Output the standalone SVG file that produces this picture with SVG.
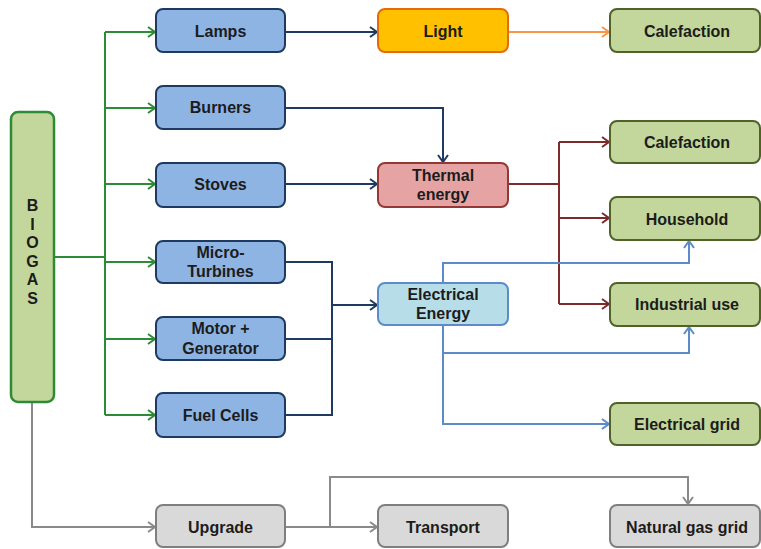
<svg xmlns="http://www.w3.org/2000/svg" width="761" height="549" viewBox="0 0 761 549">
<defs>
<style>
text{font-family:"Liberation Sans",Arial,sans-serif;font-weight:bold;font-size:16px;fill:#1c1c1c;text-anchor:middle}
.blue{fill:#8EB4E3;stroke:#1F3A60;stroke-width:2}
.grn{fill:#C3D69B;stroke:#4F6228;stroke-width:2}
.gry{fill:#D9D9D9;stroke:#7F7F7F;stroke-width:2}
.c{fill:none;stroke-width:2}
.cg{stroke:#2E8B35}
.cb{stroke:#1F3A60}
.co{stroke:#F79646}
.cr{stroke:#7B2C2A}
.cl{stroke:#5B8BC9}
.cy{stroke:#8A8A8A}
</style>
<marker id="mg" markerWidth="12" markerHeight="12" refX="10" refY="6" orient="auto" markerUnits="userSpaceOnUse"><polyline points="3,1 10,6 3,11" fill="none" stroke="#2E8B35" stroke-width="2"/></marker>
<marker id="mb" markerWidth="12" markerHeight="12" refX="10" refY="6" orient="auto" markerUnits="userSpaceOnUse"><polyline points="3,1 10,6 3,11" fill="none" stroke="#1F3A60" stroke-width="2"/></marker>
<marker id="mo" markerWidth="12" markerHeight="12" refX="10" refY="6" orient="auto" markerUnits="userSpaceOnUse"><polyline points="3,1 10,6 3,11" fill="none" stroke="#F79646" stroke-width="2"/></marker>
<marker id="mr" markerWidth="12" markerHeight="12" refX="10" refY="6" orient="auto" markerUnits="userSpaceOnUse"><polyline points="3,1 10,6 3,11" fill="none" stroke="#7B2C2A" stroke-width="2"/></marker>
<marker id="ml" markerWidth="12" markerHeight="12" refX="10" refY="6" orient="auto" markerUnits="userSpaceOnUse"><polyline points="3,1 10,6 3,11" fill="none" stroke="#5B8BC9" stroke-width="2"/></marker>
<marker id="my" markerWidth="12" markerHeight="12" refX="10" refY="6" orient="auto" markerUnits="userSpaceOnUse"><polyline points="3,1 10,6 3,11" fill="none" stroke="#8A8A8A" stroke-width="2"/></marker>
</defs>
<rect width="761" height="549" fill="#ffffff"/>
<g id="connectors">
<path class="c cg" d="M54,257 H105 M105,32 V415"/>
<path class="c cg" d="M105,32 H155" marker-end="url(#mg)"/>
<path class="c cg" d="M105,108 H155" marker-end="url(#mg)"/>
<path class="c cg" d="M105,184 H155" marker-end="url(#mg)"/>
<path class="c cg" d="M105,262 H155" marker-end="url(#mg)"/>
<path class="c cg" d="M105,339 H155" marker-end="url(#mg)"/>
<path class="c cg" d="M105,415 H155" marker-end="url(#mg)"/>
<path class="c cb" d="M285,32 H377" marker-end="url(#mb)"/>
<path class="c cb" d="M285,108 H443 V162" marker-end="url(#mb)"/>
<path class="c cb" d="M285,184 H377" marker-end="url(#mb)"/>
<path class="c cb" d="M285,262 H332 V415 H285 M285,339 H332"/>
<path class="c cb" d="M332,305 H377" marker-end="url(#mb)"/>
<path class="c co" d="M508,32 H609" marker-end="url(#mo)"/>
<path class="c cr" d="M508,184 H559 M559,142 V304"/>
<path class="c cr" d="M559,142 H609" marker-end="url(#mr)"/>
<path class="c cr" d="M559,218 H609" marker-end="url(#mr)"/>
<path class="c cr" d="M559,304 H609" marker-end="url(#mr)"/>
<path class="c cl" d="M443,283 V263 H689 V241" marker-end="url(#ml)"/>
<path class="c cl" d="M443,325 V424 H609" marker-end="url(#ml)"/>
<path class="c cl" d="M443,353 H689 V327" marker-end="url(#ml)"/>
<path class="c cy" d="M32,402 V527 H155" marker-end="url(#my)"/>
<path class="c cy" d="M285,527 H377" marker-end="url(#my)"/>
<path class="c cy" d="M330,527 V477 H688 V504" marker-end="url(#my)"/>
</g>
<g id="biogas"><rect x="11" y="112" width="43" height="290" rx="7" fill="#C3D69B" stroke="#2E8B35" stroke-width="2.5"/>
<text x="32.5" y="211">B</text><text x="32.5" y="229.5">I</text><text x="32.5" y="248">O</text><text x="32.5" y="266.5">G</text><text x="32.5" y="285">A</text><text x="32.5" y="303.5">S</text></g>
<g id="lamps"><rect class="blue" x="156" y="9" width="129" height="43" rx="7"/><text x="220.5" y="37">Lamps</text></g>
<g id="burners"><rect class="blue" x="156" y="86" width="129" height="43" rx="7"/><text x="220.5" y="113">Burners</text></g>
<g id="stoves"><rect class="blue" x="156" y="163" width="129" height="44" rx="7"/><text x="220.5" y="190">Stoves</text></g>
<g id="microturbines"><rect class="blue" x="156" y="241" width="129" height="42" rx="7"/><text x="220.5" y="258">Micro-</text><text x="220.5" y="277">Turbines</text></g>
<g id="motorgen"><rect class="blue" x="156" y="317" width="129" height="43" rx="7"/><text x="220.5" y="334">Motor +</text><text x="220.5" y="354">Generator</text></g>
<g id="fuelcells"><rect class="blue" x="156" y="393" width="129" height="44" rx="7"/><text x="220.5" y="421">Fuel Cells</text></g>
<g id="upgrade"><rect class="gry" x="156" y="505" width="129" height="42" rx="7"/><text x="220.5" y="533">Upgrade</text></g>
<g id="light"><rect x="378" y="9" width="130" height="43" rx="7" fill="#FFC000" stroke="#E36C09" stroke-width="2"/><text x="443" y="37">Light</text></g>
<g id="thermal"><rect x="378" y="163" width="130" height="44" rx="7" fill="#E6A3A3" stroke="#953735" stroke-width="2"/><text x="443" y="181">Thermal</text><text x="443" y="200">energy</text></g>
<g id="electrical"><rect x="378" y="283" width="130" height="42" rx="7" fill="#B7DEE8" stroke="#5B8BC9" stroke-width="2"/><text x="443" y="300">Electrical</text><text x="443" y="319">Energy</text></g>
<g id="transport"><rect class="gry" x="378" y="505" width="130" height="42" rx="7"/><text x="443" y="533">Transport</text></g>
<g id="calefaction1"><rect class="grn" x="610" y="9" width="150" height="43" rx="7"/><text x="687" y="37">Calefaction</text></g>
<g id="calefaction2"><rect class="grn" x="610" y="121" width="150" height="42" rx="7"/><text x="687" y="148">Calefaction</text></g>
<g id="household"><rect class="grn" x="610" y="197" width="150" height="43" rx="7"/><text x="687" y="225">Household</text></g>
<g id="industrial"><rect class="grn" x="610" y="283" width="150" height="43" rx="7"/><text x="687" y="310">Industrial use</text></g>
<g id="elecgrid"><rect class="grn" x="610" y="403" width="150" height="42" rx="7"/><text x="687" y="430">Electrical grid</text></g>
<g id="natgas"><rect class="gry" x="610" y="505" width="150" height="42" rx="7"/><text x="687" y="533">Natural gas grid</text></g>
</svg>
